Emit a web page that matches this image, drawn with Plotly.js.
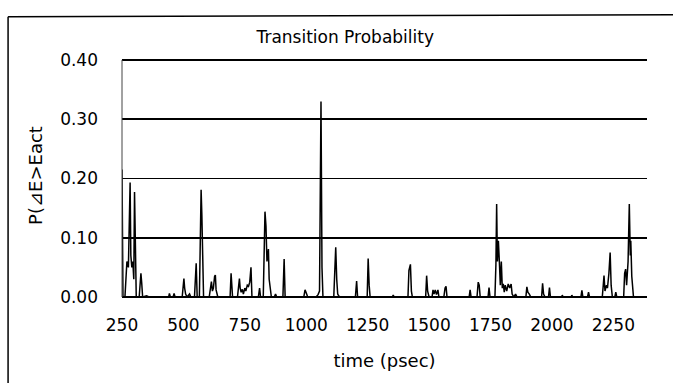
<!DOCTYPE html>
<html>
<head>
<meta charset="utf-8">
<script src="https://cdn.plot.ly/plotly-3.0.1.min.js"></script>
<style>html,body{margin:0;padding:0;background:#fff;}#chart{width:673px;height:383px;}</style>
</head>
<body>
<div id="chart"></div>
<script>
// time (psec) and transition probability values
const timePs = [
 250,254,262,270,276,280,283,286,290,294,298,301,304,308,320,324,327,330,334,350,360,
 440,443,447,458,462,466,495,499,502,505,509,515,525,530,545,552,556,565,569,572,575,578,582,
 605,610,614,618,622,627,630,633,640,690,694,697,700,720,725,728,731,735,740,744,750,754,760,765,770,775,779,
 805,810,814,825,828,832,836,840,843,846,849,853,858,870,875,880,905,910,914,
 990,995,999,1002,1006,1040,1048,1054,1060,1064,1068,1112,1116,1120,1124,1128,1135,
 1200,1205,1209,1248,1252,1256,1260,1350,1354,1358,1414,1418,1421,1424,1428,1432,
 1486,1490,1494,1500,1512,1516,1520,1525,1530,1536,1540,1560,1565,1569,1573,
 1663,1667,1671,1695,1700,1704,1708,1740,1744,1748,1768,1772,1775,1778,1782,1786,1790,1794,1798,
 1802,1806,1810,1816,1822,1828,1834,1838,1845,1852,1858,1894,1898,1902,1908,1914,
 1958,1962,1966,1972,1986,1990,1994,2040,2042,2046,2078,2081,2085,2118,2122,2126,2145,2149,2153,
 2205,2209,2212,2216,2222,2226,2232,2237,2241,2246,2256,2260,2264,
 2292,2296,2300,2304,2310,2315,2319,2321,2325,2329,2332
];
const probability = [
 0.215,0,0,0.06,0.05,0.19,0.193,0.07,0.05,0.06,0.03,0.177,0.05,0,0,0.03,0.04,0.025,0,0.002,0,
 0,0.006,0,0,0.006,0,0,0.025,0.031,0.015,0.005,0,0.005,0,0,0.057,0,0,0.12,0.181,0.14,0.05,0,
 0,0.02,0.026,0.01,0.015,0.035,0.037,0.012,0,0,0.04,0.02,0,0,0.025,0.031,0.015,0.008,0.013,0.005,0.015,0.01,0.02,0.018,0.025,0.05,0,
 0,0.015,0,0,0.1,0.144,0.12,0.06,0.07,0.081,0.03,0.01,0,0,0.005,0,0,0.064,0,
 0,0.012,0.008,0.005,0,0,0.004,0.01,0.33,0.05,0,0,0.04,0.084,0.03,0.005,0,
 0,0.027,0,0,0.065,0.02,0,0,0.003,0,0,0.045,0.05,0.055,0.01,0,
 0,0.036,0.01,0,0,0.012,0.005,0.012,0.004,0.012,0,0,0.015,0.018,0,
 0,0.012,0,0,0.025,0.02,0,0,0.016,0,0,0.055,0.157,0.06,0.095,0.06,0.02,0.06,0.015,
 0.022,0.008,0.02,0.01,0.022,0.015,0.022,0.005,0,0.005,0,0,0.017,0.008,0.005,0,
 0,0.023,0.005,0,0,0.016,0,0,0.003,0,0,0.003,0,0,0.011,0,0,0.008,0,
 0,0.02,0.036,0.01,0.02,0.015,0.04,0.075,0.02,0,0,0.008,0,
 0,0.04,0.047,0.02,0.06,0.157,0.07,0.095,0.035,0,0
];
const xTicks = [250,500,750,1000,1250,1500,1750,2000,2250];
const yTicks = [0,0.1,0.2,0.3,0.4];
const yTickText = ['0.00','0.10','0.20','0.30','0.40'];

const fontFam = 'DejaVu Sans, Noto Sans CJK JP, sans-serif';

Plotly.newPlot('chart', [{
  x: timePs, y: probability, type: 'scatter', mode: 'lines',
  line: {color: '#000', width: 1.5}, hoverinfo: 'skip'
}], {
  width: 673, height: 383,
  margin: {l: 122, r: 26, t: 54, b: 86, pad: 0},
  paper_bgcolor: '#fff', plot_bgcolor: '#fff',
  showlegend: false,
  font: {family: fontFam, color: '#000', size: 17},
  title: {text: 'Transition Probability', font: {size: 17, color: '#000'}, x: 0.513, xanchor: 'center', y: 0.903, yanchor: 'middle'},
  xaxis: {
    range: [250, 2387], tickvals: xTicks, ticktext: xTicks.map(String),
    showgrid: false, zeroline: false, showline: false, ticks: '',
    ticklabelstandoff: 16,
    tickfont: {size: 17},
    title: {text: 'time (psec)', font: {size: 18}, standoff: 20}
  },
  yaxis: {
    range: [0, 0.41], tickvals: yTicks, ticktext: yTickText,
    showgrid: true, gridcolor: '#000', gridwidth: 1.6,
    zeroline: true, zerolinecolor: '#000', zerolinewidth: 1.6,
    showline: false, ticks: '',
    ticklabelstandoff: 23,
    tickfont: {size: 17},
    title: {text: 'P(⊿E>Eact', font: {size: 18}, standoff: 12}
  },
  shapes: [
    {type: 'line', xref: 'paper', yref: 'y', x0: 0, x1: 0, y0: 0, y1: 0.4, line: {color: '#444', width: 1}},
    {type: 'line', xref: 'paper', yref: 'paper', x0: -0.217, x1: 1.06, y0: 1.153, y1: 1.162, line: {color: '#000', width: 1.5}},
    {type: 'line', xref: 'paper', yref: 'paper', x0: -0.217, x1: -0.217, y0: 1.153, y1: -0.37, line: {color: '#000', width: 1.5}}
  ]
}, {staticPlot: true});
</script>
</body>
</html>
